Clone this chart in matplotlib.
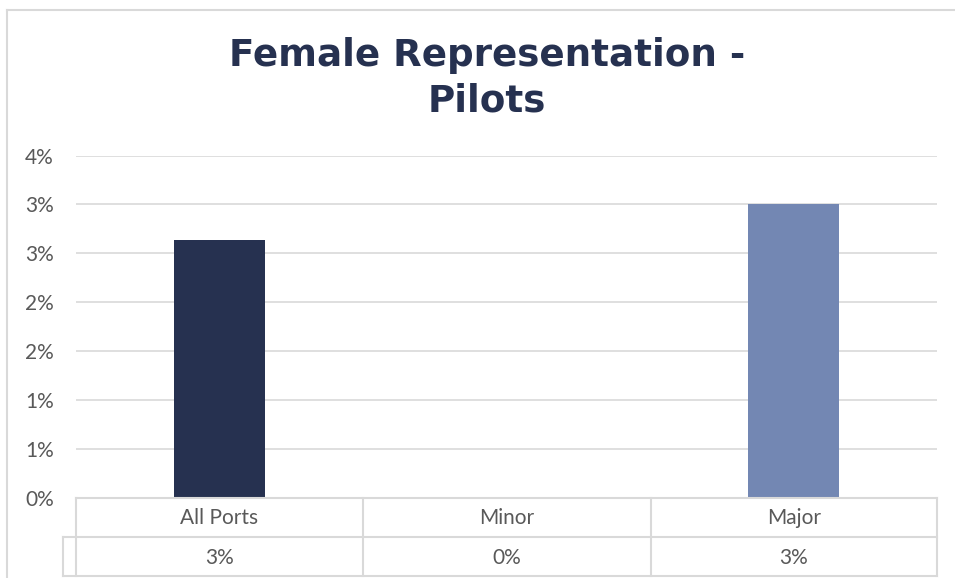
import matplotlib
matplotlib.use('Agg')
import matplotlib.pyplot as plt
from matplotlib.lines import Line2D
import math

categories = ['All Ports', 'Minor', 'Major']
values = [0.0264, 0.0, 0.0300]
table_labels = ['3%', '0%', '3%']
colors = ['#263150', '#4472C4', '#7387B3']

W, H = 955, 578
fig = plt.figure(figsize=(W / 100, H / 100), dpi=100)

def fx(px):
    return px / W

def fy(py):
    return 1 - py / H

# outer chart frame (right/bottom cut off)
grey = '#d9d9d9'
fig.add_artist(Line2D([fx(7), fx(7)], [fy(10), fy(578)], color=grey, lw=1.5))
fig.add_artist(Line2D([fx(7), fx(955)], [fy(10), fy(10)], color=grey, lw=1.5))

left, right, top, bottom = 76, 937, 155.5, 498
ax = fig.add_axes([fx(left), fy(bottom), fx(right - left), (bottom - top) / H])

x = range(len(categories))
ax.bar(x, values, width=0.315, color=colors)
ax.set_xlim(-0.5, 2.5)
ax.set_ylim(0, 0.035)
ticks = [i * 0.005 for i in range(8)]
ax.set_yticks(ticks)
ax.set_yticklabels(['%d%%' % math.floor(t * 100 + 0.5 + 1e-9) for t in ticks])
ax.yaxis.grid(True, color=grey, lw=1.2)
ax.set_axisbelow(True)
ax.set_xticks([])
for s in ax.spines.values():
    s.set_visible(False)
ax.tick_params(axis='y', length=0, pad=16, labelsize=15, labelcolor='#595959')
for lab in ax.get_yticklabels():
    lab.set_fontfamily('Lato')

# data table
row1, row2, row3 = 498, 537, 576
cols = [76, 363, 651, 937]
tl = dict(color=grey, lw=1.5)
fig.add_artist(Line2D([fx(left), fx(right)], [fy(row1), fy(row1)], **tl))
fig.add_artist(Line2D([fx(63), fx(right)], [fy(row2), fy(row2)], **tl))
fig.add_artist(Line2D([fx(63), fx(right)], [fy(row3), fy(row3)], **tl))
fig.add_artist(Line2D([fx(63), fx(63)], [fy(row2), fy(row3)], **tl))
for c in cols:
    fig.add_artist(Line2D([fx(c), fx(c)], [fy(row1), fy(row3)], **tl))
for i, cat in enumerate(categories):
    cx = (cols[i] + cols[i + 1]) / 2
    fig.text(fx(cx), fy((row1 + row2) / 2 + 1), cat, ha='center', va='center',
             fontsize=15, color='#595959', family='Lato')
    fig.text(fx(cx), fy((row2 + row3) / 2 + 1), table_labels[i], ha='center', va='center',
             fontsize=15, color='#595959', family='Lato')

fig.text(fx(487), fy(55), 'Female Representation -', ha='center', va='center',
         fontsize=26.8, fontweight='bold', color='#263150', family='DejaVu Sans')
fig.text(fx(487), fy(101), 'Pilots', ha='center', va='center',
         fontsize=26.8, fontweight='bold', color='#263150', family='DejaVu Sans')

fig.savefig('out.png', dpi=100)
